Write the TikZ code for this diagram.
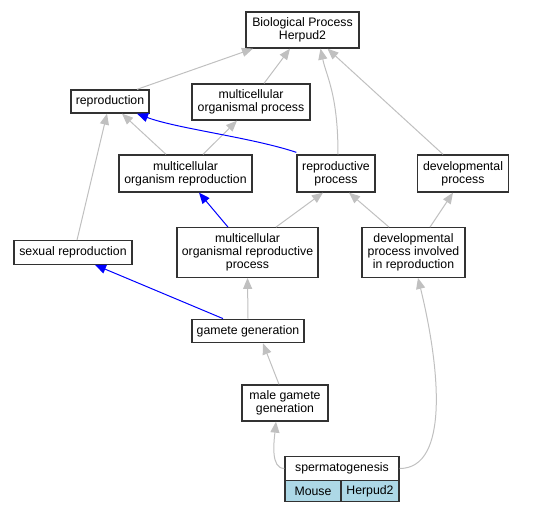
\documentclass[tikz,border=0pt]{standalone}
\usepackage{fontspec}
\setmainfont{Liberation Sans}
\usetikzlibrary{arrows.meta}
\definecolor{edgegray}{RGB}{192,192,192}
\definecolor{boxline}{RGB}{50,50,50}
\definecolor{cellblue}{RGB}{173,216,230}
\begin{document}
\begin{tikzpicture}[x=1pt,y=-1pt,
  box/.style={draw=boxline, line width=1.3pt, fill=white, rectangle, inner sep=0pt, align=center,
    font=\fontsize{12.3}{13.3}\selectfont},
  cell/.style={box, fill=cellblue},
  isa/.style={draw=edgegray, line width=1pt, -{Triangle[length=11pt,width=9pt]}, color=edgegray},
  blueedge/.style={draw=blue, line width=1pt, -{Triangle[length=11pt,width=9pt]}, color=blue}]
\useasboundingbox (0,0) rectangle (547,512);
% nodes
\node[box, minimum width=113pt, minimum height=36pt] (bp) at (302.5,30) {Biological Process\\Herpud2};
\node[box, minimum width=78pt, minimum height=23pt] (repro) at (110,101.5) {reproduction};
\node[box, minimum width=118pt, minimum height=36pt] (mop) at (251,102) {multicellular\\organismal process};
\node[box, minimum width=133pt, minimum height=37pt] (mor) at (185.5,173.5) {multicellular\\organism reproduction};
\node[box, minimum width=78pt, minimum height=37pt] (rp) at (336,173.5) {reproductive\\process};
\node[box, minimum width=91pt, minimum height=37pt] (dp) at (463,173.5) {developmental\\process};
\node[box, minimum width=118pt, minimum height=23.5pt] (sr) at (73,252.5) {sexual reproduction};
\node[box, minimum width=141pt, minimum height=49.5pt] (morp) at (247.5,252.5) {multicellular\\organismal reproductive\\process};
\node[box, minimum width=103pt, minimum height=49.5pt] (dpir) at (413.5,252.5) {developmental\\process involved\\in reproduction};
\node[box, minimum width=112pt, minimum height=23.5pt] (gg) at (248,331) {gamete generation};
\node[box, minimum width=86pt, minimum height=36pt] (mgg) at (285,403) {male gamete\\generation};
\node[box, minimum width=114pt, minimum height=23.5pt] (sp) at (342,468.5) {spermatogenesis};
\node[cell, minimum width=56pt, minimum height=21.5pt] (mouse) at (313,491) {Mouse};
\node[cell, minimum width=58pt, minimum height=21.5pt] (herp) at (370,491) {Herpud2};
% edges
\draw[isa] ([xshift=27pt]repro.north) -- ([xshift=-49.5pt]bp.south);
\draw[isa] ([xshift=13pt]mop.north) -- ([xshift=-12.5pt]bp.south);
\draw[isa] ([xshift=2pt]rp.north) .. controls +(0,-60) and +(6,28) .. ([xshift=18pt]bp.south);
\draw[isa] ([xshift=-20pt]dp.north) -- ([xshift=25pt]bp.south);
\draw[isa] ([xshift=-19.5pt]mor.north) -- ([xshift=12pt]repro.south);
\draw[isa] ([xshift=17.5pt]mor.north) -- ([xshift=-14pt]mop.south);
\draw[blueedge] ([yshift=2pt]rp.north west) .. controls +(-45,-15) and +(40,15) .. ([xshift=27pt]repro.south);
\draw[isa] ([xshift=4pt]sr.north) -- ([xshift=-3pt]repro.south);
\draw[blueedge] ([xshift=-19.5pt]morp.north) -- ([xshift=13.5pt]mor.south);
\draw[isa] ([xshift=28.5pt]morp.north) -- ([xshift=-13pt]rp.south);
\draw[isa] ([xshift=-24.5pt]dpir.north) -- ([xshift=13pt]rp.south);
\draw[isa] ([xshift=16.5pt]dpir.north) -- ([xshift=-10pt]dp.south);
\draw[blueedge] ([xshift=-25pt]gg.north) -- ([xshift=22pt]sr.south);
\draw[isa] (gg.north) -- (morp.south);
\draw[isa] ([xshift=-6pt]mgg.north) -- ([xshift=15pt]gg.south);
\draw[isa] (sp.west) .. controls +(-14,0) and +(-2,20) .. ([xshift=-9pt]mgg.south);
\draw[isa] (sp.east) .. controls +(50,0) and +(22,90) .. ([xshift=4.5pt]dpir.south);
\end{tikzpicture}
\end{document}
